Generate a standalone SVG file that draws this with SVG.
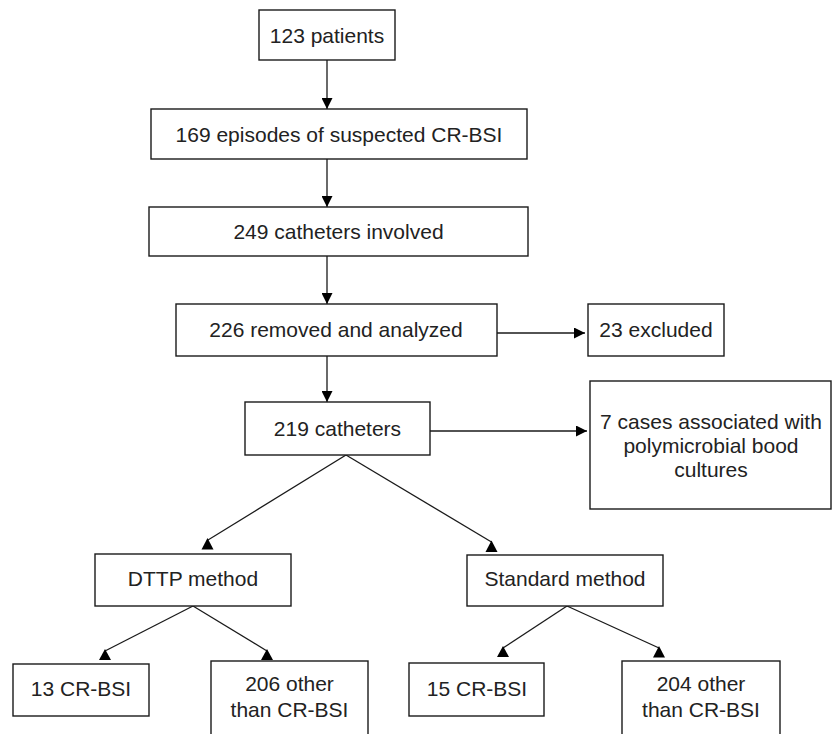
<svg xmlns="http://www.w3.org/2000/svg" width="833" height="734" viewBox="0 0 833 734">
<defs>
<style>
.box{fill:#fff;stroke:#1a1a1a;stroke-width:1.4}
.t{font-family:"Liberation Sans",Arial,sans-serif;font-size:21px;fill:#222;text-anchor:middle}
.c{stroke:#1a1a1a;stroke-width:1.3;fill:none}
.h{fill:#000;stroke:none}
</style>
<marker id="arr" viewBox="0 0 11 11" refX="11" refY="5.5" markerWidth="11" markerHeight="11" markerUnits="userSpaceOnUse" orient="auto">
<path d="M0,0 L11,5.5 L0,11 Z" fill="#000"/>
</marker>
</defs>
<rect width="833" height="734" fill="#fff"/>
<g id="connectors">
<line class="c" x1="327" y1="60" x2="327" y2="109" marker-end="url(#arr)"/>
<line class="c" x1="327" y1="159" x2="327" y2="207" marker-end="url(#arr)"/>
<line class="c" x1="327" y1="256" x2="327" y2="304" marker-end="url(#arr)"/>
<line class="c" x1="497" y1="333" x2="585" y2="333" marker-end="url(#arr)"/>
<line class="c" x1="327" y1="356" x2="327" y2="402" marker-end="url(#arr)"/>
<line class="c" x1="430" y1="431" x2="587" y2="431" marker-end="url(#arr)"/>
<line class="c" x1="346" y1="455" x2="208" y2="540"/>
<polygon class="h" points="207.5,538 213.5,549.5 201.5,549.5"/>
<line class="c" x1="346" y1="455" x2="491.5" y2="542"/>
<polygon class="h" points="491.5,540.5 497.5,552 485.5,552"/>
<line class="c" x1="193" y1="606" x2="105" y2="651"/>
<polygon class="h" points="105,649 111,660 99,660"/>
<line class="c" x1="193" y1="606" x2="267" y2="651"/>
<polygon class="h" points="267,649 273,660 261,660"/>
<line class="c" x1="567" y1="606" x2="503" y2="648"/>
<polygon class="h" points="503,646 509,657 497,657"/>
<line class="c" x1="567" y1="606" x2="659" y2="648"/>
<polygon class="h" points="659,646 665,657.5 653,657.5"/>
</g>
<g id="n1"><rect class="box" x="259" y="10" width="136" height="50"/><text class="t" x="327" y="42.5">123 patients</text></g>
<g id="n2"><rect class="box" x="151" y="109" width="376" height="50"/><text class="t" x="339" y="141.5">169 episodes of suspected CR-BSI</text></g>
<g id="n3"><rect class="box" x="149" y="207" width="379" height="49"/><text class="t" x="338.5" y="239">249 catheters involved</text></g>
<g id="n4"><rect class="box" x="176" y="304" width="321" height="52"/><text class="t" x="336" y="337">226 removed and analyzed</text></g>
<g id="n5"><rect class="box" x="588" y="304" width="136" height="52"/><text class="t" x="656" y="337">23 excluded</text></g>
<g id="n6"><rect class="box" x="245" y="402" width="185" height="53"/><text class="t" x="337.5" y="436">219 catheters</text></g>
<g id="n7"><rect class="box" x="590" y="381" width="241" height="128"/><text class="t" x="711" y="429">7 cases associated with</text><text class="t" x="711" y="453">polymicrobial bood</text><text class="t" x="711" y="477">cultures</text></g>
<g id="n8"><rect class="box" x="95" y="554" width="196" height="52"/><text class="t" x="193" y="586">DTTP method</text></g>
<g id="n9"><rect class="box" x="467" y="555" width="196" height="51"/><text class="t" x="565" y="586">Standard method</text></g>
<g id="n10"><rect class="box" x="13" y="664" width="136" height="52"/><text class="t" x="81" y="696">13 CR-BSI</text></g>
<g id="n11"><rect class="box" x="211" y="661" width="157" height="90"/><text class="t" x="289.5" y="691">206 other</text><text class="t" x="289.5" y="717">than CR-BSI</text></g>
<g id="n12"><rect class="box" x="409" y="663" width="135" height="53"/><text class="t" x="477" y="696">15 CR-BSI</text></g>
<g id="n13"><rect class="box" x="622" y="661" width="158" height="90"/><text class="t" x="701" y="691">204 other</text><text class="t" x="701" y="717">than CR-BSI</text></g>
</svg>
